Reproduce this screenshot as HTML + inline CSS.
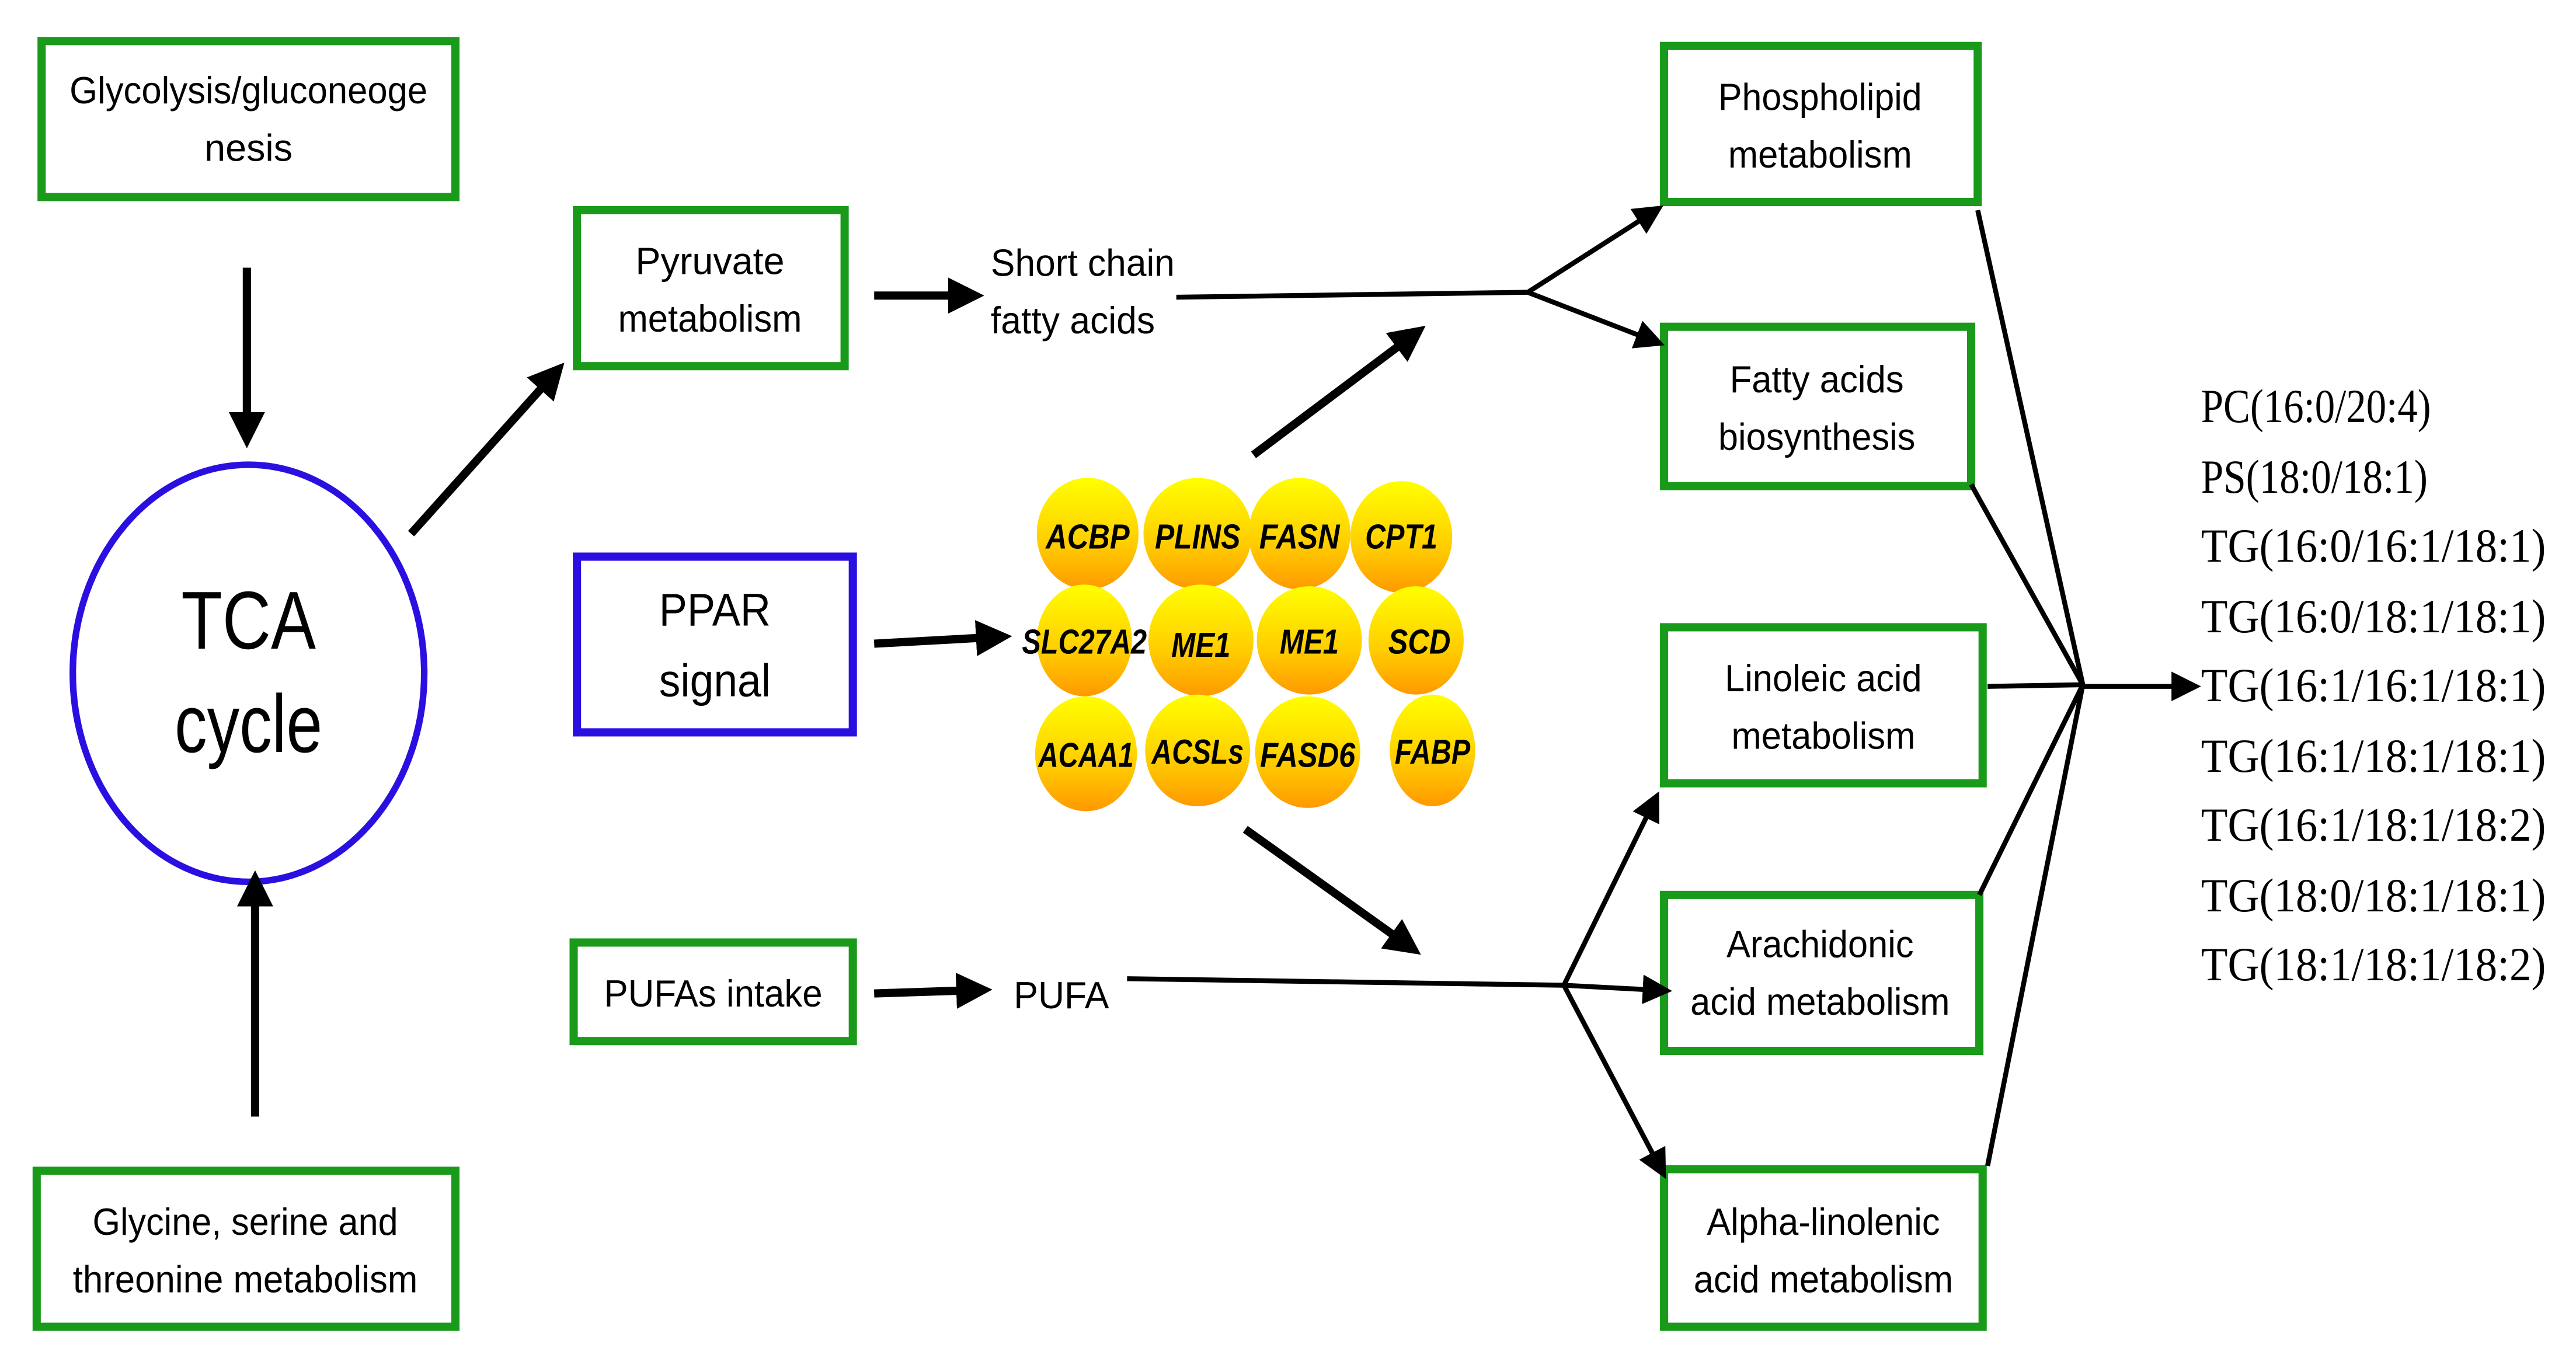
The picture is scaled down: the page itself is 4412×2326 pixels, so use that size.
<!DOCTYPE html>
<html><head><meta charset="utf-8"><style>html,body{margin:0;padding:0;background:#fff}svg{display:block}</style></head><body>
<svg width="4412" height="2326" viewBox="0 0 1568 827" xmlns="http://www.w3.org/2000/svg" font-family="Liberation Sans, sans-serif">
<defs>
<marker id="a" markerWidth="4.4" markerHeight="4.4" refX="2.2" refY="2.2" orient="auto" markerUnits="strokeWidth"><path d="M0,0 L4.4,2.2 L0,4.4 z" fill="#000"/></marker>
<marker id="b" markerWidth="6" markerHeight="6" refX="3" refY="3" orient="auto" markerUnits="strokeWidth"><path d="M0,0 L6,3 L0,6 z" fill="#000"/></marker>
<linearGradient id="g" x1="0" y1="0" x2="0" y2="1"><stop offset="0" stop-color="#ffff00"/><stop offset="0.6" stop-color="#ffcc00"/><stop offset="1" stop-color="#ff9900"/></linearGradient>
</defs>
<g fill="none" stroke="#1a9a1a" stroke-width="5">
<rect x="25" y="25" width="252" height="95"/>
<rect x="22" y="713" width="255" height="95"/>
<rect x="351" y="128" width="163" height="95"/>
<rect x="349" y="574" width="170" height="60"/>
<rect x="1013" y="28" width="191" height="95"/>
<rect x="1013" y="199" width="187" height="97"/>
<rect x="1013" y="382" width="194" height="95"/>
<rect x="1013" y="545" width="192" height="95"/>
<rect x="1013" y="712" width="194" height="96"/>
</g>
<rect x="351" y="339" width="168" height="107" fill="none" stroke="#2a10e0" stroke-width="5"/>
<ellipse cx="151" cy="410" rx="107" ry="127" fill="none" stroke="#2a10e0" stroke-width="4"/>
<g stroke="#000" stroke-width="5" fill="none" marker-end="url(#a)">
<line x1="150" y1="163" x2="150" y2="262"/>
<line x1="155" y1="680" x2="155" y2="541"/>
<line x1="250" y1="325" x2="336" y2="229"/>
<line x1="532" y1="180" x2="588" y2="180"/>
<line x1="763" y1="277" x2="859" y2="205"/>
<line x1="532" y1="392" x2="605" y2="388"/>
<line x1="758" y1="505" x2="856" y2="575"/>
<line x1="532" y1="605" x2="593" y2="603"/>
</g>
<g stroke="#000" stroke-width="3" fill="none">
<polyline points="716,181 930,178"/>
<polyline points="686,596 952,600"/>
<line x1="930" y1="178" x2="1005" y2="130" marker-end="url(#b)"/>
<line x1="930" y1="178" x2="1005" y2="207" marker-end="url(#b)"/>
<line x1="952" y1="600" x2="1009" y2="603" marker-end="url(#b)"/>
<line x1="952" y1="600" x2="1006" y2="490" marker-end="url(#b)"/>
<line x1="952" y1="600" x2="1010" y2="710" marker-end="url(#b)"/>
<line x1="1204" y1="128" x2="1268" y2="417"/>
<line x1="1200" y1="295" x2="1268" y2="417"/>
<line x1="1210" y1="418" x2="1268" y2="417"/>
<line x1="1205" y1="545" x2="1268" y2="417"/>
<line x1="1210" y1="710" x2="1268" y2="417"/>
<line x1="1268" y1="418" x2="1331" y2="418" marker-end="url(#b)"/>
</g>
<g font-size="23" fill="#000" text-anchor="middle" lengthAdjust="spacingAndGlyphs">
<text x="151" y="63" textLength="218" lengthAdjust="spacingAndGlyphs">Glycolysis/gluconeoge</text><text x="151" y="98">nesis</text>
<text x="149" y="752" textLength="186" lengthAdjust="spacingAndGlyphs">Glycine, serine and</text><text x="149" y="787" textLength="210" lengthAdjust="spacingAndGlyphs">threonine metabolism</text>
<text x="432" y="167">Pyruvate</text><text x="432" y="202" textLength="112" lengthAdjust="spacingAndGlyphs">metabolism</text>
<text x="434" y="613" textLength="133" lengthAdjust="spacingAndGlyphs">PUFAs intake</text>
<text x="1108" y="67" textLength="124" lengthAdjust="spacingAndGlyphs">Phospholipid</text><text x="1108" y="102" textLength="112" lengthAdjust="spacingAndGlyphs">metabolism</text>
<text x="1106" y="239" textLength="106" lengthAdjust="spacingAndGlyphs">Fatty acids</text><text x="1106" y="274" textLength="120" lengthAdjust="spacingAndGlyphs">biosynthesis</text>
<text x="1110" y="421" textLength="120" lengthAdjust="spacingAndGlyphs">Linoleic acid</text><text x="1110" y="456" textLength="112" lengthAdjust="spacingAndGlyphs">metabolism</text>
<text x="1108" y="583" textLength="114" lengthAdjust="spacingAndGlyphs">Arachidonic</text><text x="1108" y="618" textLength="158" lengthAdjust="spacingAndGlyphs">acid metabolism</text>
<text x="1110" y="752" textLength="142" lengthAdjust="spacingAndGlyphs">Alpha-linolenic</text><text x="1110" y="787" textLength="158" lengthAdjust="spacingAndGlyphs">acid metabolism</text>
<text x="435" y="381" font-size="28" textLength="68" lengthAdjust="spacingAndGlyphs">PPAR</text><text x="435" y="424" font-size="28" textLength="68" lengthAdjust="spacingAndGlyphs">signal</text>
<text x="151" y="395" font-size="50" textLength="82" lengthAdjust="spacingAndGlyphs">TCA</text><text x="151" y="458" font-size="50" textLength="90" lengthAdjust="spacingAndGlyphs">cycle</text>
</g>
<g font-size="23" fill="#000">
<text x="603" y="168" textLength="112" lengthAdjust="spacingAndGlyphs">Short chain</text><text x="603" y="203" textLength="100" lengthAdjust="spacingAndGlyphs">fatty acids</text>
<text x="617" y="614" textLength="58" lengthAdjust="spacingAndGlyphs">PUFA</text>
</g>
<g fill="url(#g)">
<ellipse cx="662" cy="325" rx="31" ry="34"/><ellipse cx="729" cy="325" rx="33" ry="34"/><ellipse cx="791" cy="325" rx="31" ry="34"/><ellipse cx="853" cy="327" rx="31" ry="34"/>
<ellipse cx="660" cy="390" rx="29" ry="34"/><ellipse cx="731" cy="390" rx="32" ry="34"/><ellipse cx="797" cy="390" rx="32" ry="33"/><ellipse cx="862" cy="390" rx="29" ry="33"/>
<ellipse cx="661" cy="459" rx="31" ry="35"/><ellipse cx="729" cy="457" rx="32" ry="34"/><ellipse cx="796" cy="458" rx="32" ry="34"/><ellipse cx="872" cy="457" rx="26" ry="34"/>
</g>
<g font-size="21" font-weight="bold" font-style="italic" fill="#000" text-anchor="middle">
<text x="662" y="334" textLength="51" lengthAdjust="spacingAndGlyphs">ACBP</text><text x="729" y="334" textLength="52" lengthAdjust="spacingAndGlyphs">PLINS</text><text x="791" y="334" textLength="49" lengthAdjust="spacingAndGlyphs">FASN</text><text x="853" y="334" textLength="44" lengthAdjust="spacingAndGlyphs">CPT1</text>
<text x="660" y="398" textLength="76" lengthAdjust="spacingAndGlyphs">SLC27A2</text><text x="731" y="400" textLength="36" lengthAdjust="spacingAndGlyphs">ME1</text><text x="797" y="398" textLength="36" lengthAdjust="spacingAndGlyphs">ME1</text><text x="864" y="398" textLength="38" lengthAdjust="spacingAndGlyphs">SCD</text>
<text x="661" y="467" textLength="58" lengthAdjust="spacingAndGlyphs">ACAA1</text><text x="729" y="465" textLength="56" lengthAdjust="spacingAndGlyphs">ACSLs</text><text x="796" y="467" textLength="58" lengthAdjust="spacingAndGlyphs">FASD6</text><text x="872" y="465" textLength="46" lengthAdjust="spacingAndGlyphs">FABP</text>
</g>
<g font-family="Liberation Serif, serif" font-size="29" fill="#000">
<text x="1340" y="257" textLength="140" lengthAdjust="spacingAndGlyphs">PC(16:0/20:4)</text>
<text x="1340" y="300" textLength="138" lengthAdjust="spacingAndGlyphs">PS(18:0/18:1)</text>
<text x="1340" y="342" textLength="210" lengthAdjust="spacingAndGlyphs">TG(16:0/16:1/18:1)</text>
<text x="1340" y="385" textLength="210" lengthAdjust="spacingAndGlyphs">TG(16:0/18:1/18:1)</text>
<text x="1340" y="427" textLength="210" lengthAdjust="spacingAndGlyphs">TG(16:1/16:1/18:1)</text>
<text x="1340" y="470" textLength="210" lengthAdjust="spacingAndGlyphs">TG(16:1/18:1/18:1)</text>
<text x="1340" y="512" textLength="210" lengthAdjust="spacingAndGlyphs">TG(16:1/18:1/18:2)</text>
<text x="1340" y="555" textLength="210" lengthAdjust="spacingAndGlyphs">TG(18:0/18:1/18:1)</text>
<text x="1340" y="597" textLength="210" lengthAdjust="spacingAndGlyphs">TG(18:1/18:1/18:2)</text>
</g>
</svg>
</body></html>
